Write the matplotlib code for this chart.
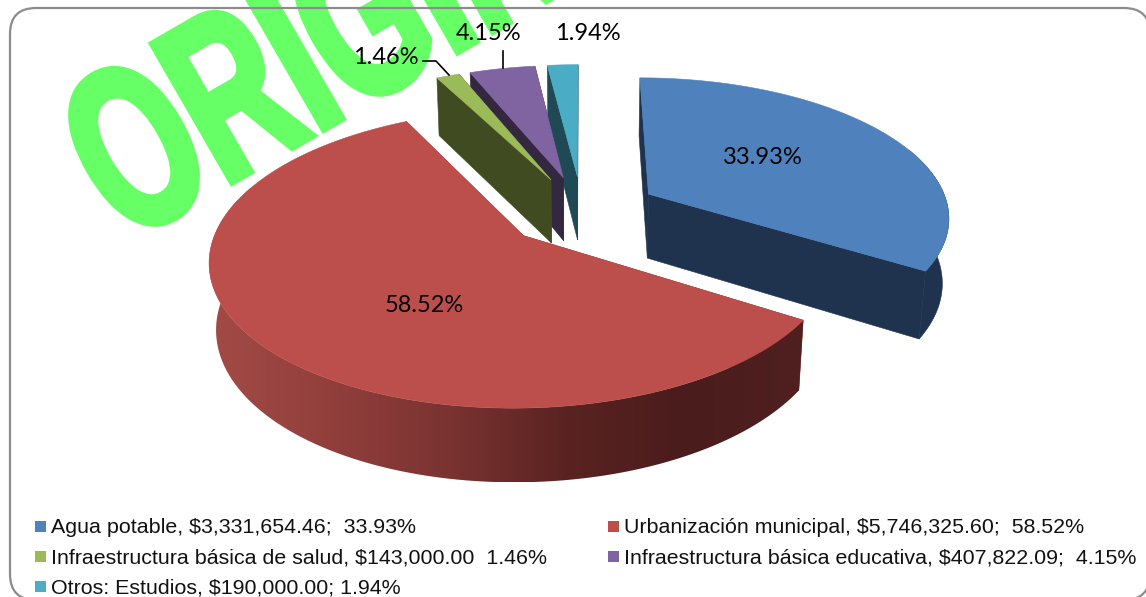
import numpy as np
import matplotlib
matplotlib.use("Agg")
import matplotlib.pyplot as plt
from matplotlib.patches import Polygon, Rectangle, FancyBboxPatch
from matplotlib.patheffects import AbstractPathEffect
from matplotlib.transforms import Affine2D
from matplotlib.colors import LinearSegmentedColormap

# ---------- data ----------
categories = ["Agua potable", "Urbanización municipal", "Infraestructura básica de salud",
              "Infraestructura básica educativa", "Otros: Estudios"]
amounts = [3331654.46, 5746325.60, 143000.00, 407822.09, 190000.00]
percent_labels = ["33.93%", "58.52%", "1.46%", "4.15%", "1.94%"]
legend_labels = ["Agua potable, $3,331,654.46;  33.93%",
                 "Urbanización municipal, $5,746,325.60;  58.52%",
                 "Infraestructura básica de salud, $143,000.00  1.46%",
                 "Infraestructura básica educativa, $407,822.09;  4.15%",
                 "Otros: Estudios, $190,000.00; 1.94%"]
watermark = "ORIGINAL"

# ---------- styles ----------
top_colors = ["#4F81BD", "#BC4F4C", "#9BBB59", "#8064A2", "#4BACC6"]
side_colors = ["#1F334F", "#7A2F2E", "#414B22", "#33283F", "#1F4A55"]
red_wall_stops = ["#A34A46", "#923F3C", "#7A3331", "#5A2321", "#4A1C1C", "#4F201F"]

W, H = 1146, 597
CX, CY, A, B, K, M, HT, EXPL = 582, 211, 301, 138.4, 0.15, 0.018, 66, 0.257


def proj(x, y, z=0.0):
    den = 1 + K * y + M * z
    return CX + A * x / den, CY + (-B * y + HT * z) / den


fig = plt.figure(figsize=(W / 100, H / 100), dpi=100)
ax = fig.add_axes([0, 0, 1, 1])
ax.axis("off")


class Squeeze(AbstractPathEffect):
    """Condense and embolden the glyph outlines, and turn them about the anchor."""
    def __init__(self, anchor, sx, deg, stroke):
        self.anchor, self.sx, self.deg, self.stroke = anchor, sx, deg, stroke

    def draw_path(self, renderer, gc, tpath, affine, rgbFace=None):
        ax_, ay_ = self.anchor
        extra = Affine2D().translate(-ax_, -ay_).scale(self.sx, 1).rotate_deg(self.deg).translate(ax_, ay_)
        gc0 = renderer.new_gc()
        gc0.copy_properties(gc)
        gc0.set_linewidth(self.stroke)
        gc0.set_foreground(rgbFace)
        gc0.set_joinstyle("miter")
        renderer.draw_path(gc0, tpath, affine + extra, rgbFace)
        gc0.restore()


# frame, drawn above the watermark (a barely-there face keeps the off-page outline intact)
ax.add_patch(FancyBboxPatch((35, 33), 1090, 542, boxstyle="round,pad=25,rounding_size=26",
                            fc=(1, 1, 1, 0.004), ec="#8C8C8C", lw=1.6, zorder=2.5))

# watermark
anchor_px = (125, 244)
ax.text(anchor_px[0], anchor_px[1], watermark, family="Liberation Sans", weight="bold",
        fontsize=167, color="#66FF66", ha="left", va="baseline", zorder=2,
        path_effects=[Squeeze((anchor_px[0], H - anchor_px[1]), 0.632, 30, 5)])

# pie
shares = np.array(amounts) / np.sum(amounts)
edges = np.concatenate([[0], np.cumsum(shares)]) * 360.0


def poly(pts, color, z):
    ax.add_patch(Polygon(pts, closed=True, fc=color, ec=color, lw=0.4, zorder=z))


for idx in [4, 3, 2, 0, 1]:
    ta, tb = np.radians(edges[idx]), np.radians(edges[idx + 1])
    mid = (ta + tb) / 2
    ox, oy = EXPL * np.sin(mid), EXPL * np.cos(mid)
    base = 3 + [4, 3, 2, 0, 1].index(idx) * 0.1
    th = np.linspace(ta, tb, max(4, int(np.degrees(tb - ta) * 2)))
    px, py = ox + np.sin(th), oy + np.cos(th)
    # cut faces
    for t in (ta, tb):
        ex, ey = ox + np.sin(t), oy + np.cos(t)
        poly([proj(ox, oy), proj(ex, ey), proj(ex, ey, 1), proj(ox, oy, 1)], side_colors[idx], base)
    # outer wall, one outline for the part that faces the viewer
    keep = np.cos(th) < 0.35
    if keep.any():
        wall = [proj(a, b) for a, b in zip(px[keep], py[keep])] + \
               [proj(a, b, 1) for a, b in zip(px[keep][::-1], py[keep][::-1])]
        if idx == 1:
            outline = Polygon(wall, closed=True, fc="none", ec="none", transform=ax.transData)
            ax.add_patch(outline)
            xs = np.array(wall)
            cmap = LinearSegmentedColormap.from_list("redwall", red_wall_stops)
            grad = np.linspace(0, 1, 256)[None, :]
            im = ax.imshow(grad, cmap=cmap, aspect="auto", zorder=base + 0.01,
                           extent=[xs[:, 0].min(), xs[:, 0].max(), xs[:, 1].max(), xs[:, 1].min()])
            im.set_clip_path(outline)
        else:
            poly(wall, side_colors[idx], base + 0.01)
    # top face
    poly([proj(ox, oy)] + [proj(a, b) for a, b in zip(px, py)], top_colors[idx], base + 0.02)

# data labels
label_xy = [(763, 157), (424, 306), (386, 57), (489, 33), (588, 33)]
for s, (x, y) in zip(percent_labels, label_xy):
    ax.text(x, y, s, family="Lato", fontsize=17, color="black", ha="center", va="center", zorder=10)
ax.plot([423, 436, 449], [61, 61, 75], color="black", lw=1.2, zorder=9)
ax.plot([503, 503], [51, 68], color="black", lw=1.2, zorder=9)

# legend
swatches = [(35, 521), (608, 521), (35, 551), (608, 551), (35, 581)]
text_pos = [(51, 533), (623.5, 533), (51, 564), (623.5, 564), (51, 594)]
for s, c, (sx, sy), (tx, ty) in zip(legend_labels, top_colors, swatches, text_pos):
    ax.add_patch(Rectangle((sx, sy), 11, 11, fc=c, ec="none", zorder=10))
    ax.text(tx, ty, s, family="Liberation Sans", fontsize=15.36, color="#111111",
            ha="left", va="baseline", zorder=10)

ax.set_xlim(0, W)
ax.set_ylim(H, 0)
fig.savefig("out.png", dpi=100)
